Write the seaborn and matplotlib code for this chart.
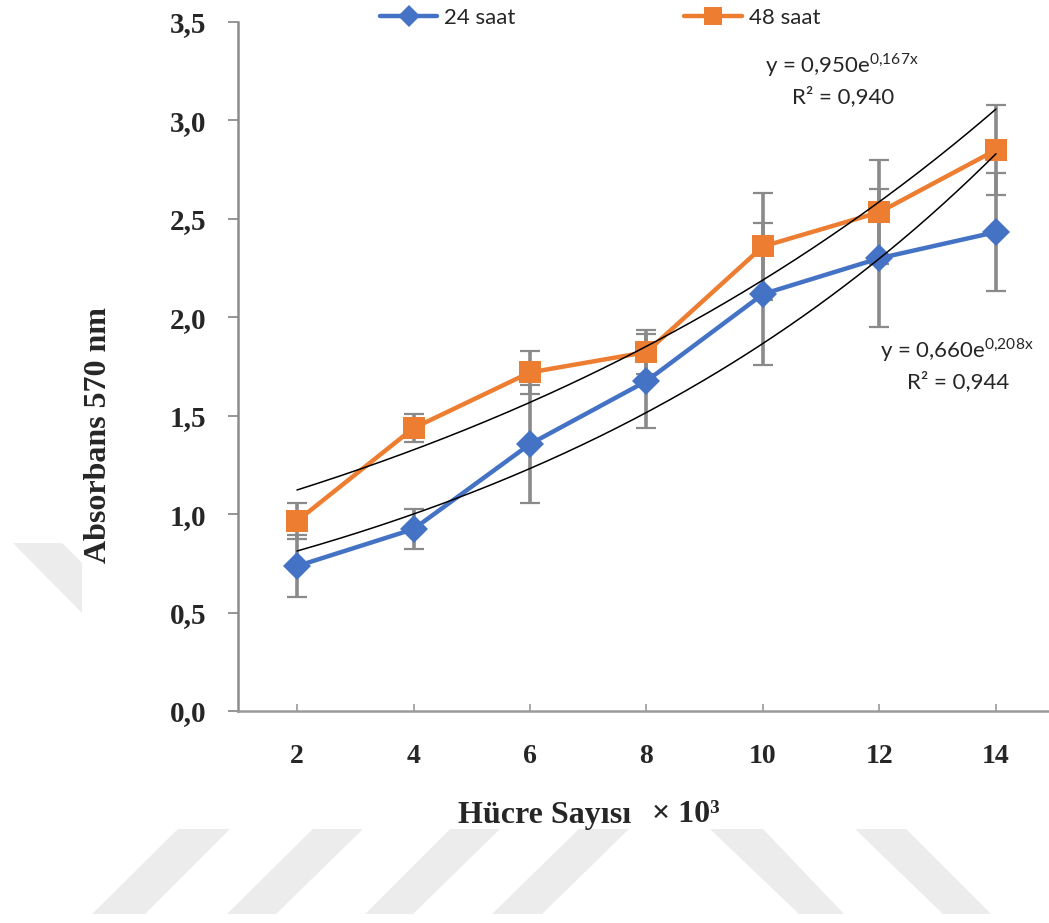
import numpy as np
import pandas as pd
import matplotlib
matplotlib.use("Agg")
import matplotlib.pyplot as plt
from matplotlib.patches import Polygon
import seaborn as sns

# Cell counts (x10^3) and absorbance readings at 570 nm
cells = [2, 4, 6, 8, 10, 12, 14]
abs_24h = [0.736, 0.924, 1.356, 1.676, 2.118, 2.30, 2.433]
err_24h = [0.157, 0.10, 0.30, 0.24, 0.36, 0.35, 0.30]
abs_48h = [0.965, 1.437, 1.72, 1.823, 2.36, 2.534, 2.85]
err_48h = [0.09, 0.07, 0.11, 0.11, 0.27, 0.265, 0.23]
series_names = ["24 saat", "48 saat"]

# Exponential trendlines y = a*exp(b*k), k = point index (1..7)
fit_24h = (0.660, 0.208, 0.944)
fit_48h = (0.950, 0.167, 0.940)

y_ticks = [0.0, 0.5, 1.0, 1.5, 2.0, 2.5, 3.0, 3.5]

BLUE = "#4472C4"
ORANGE = "#ED7D31"

sns.set_style("white")
plt.rcParams["font.family"] = ["Liberation Serif", "DejaVu Serif"]

W, H = 1049, 923
fig = plt.figure(figsize=(W / 100, H / 100), dpi=100)

# light diagonal stripes in the page background
def px(pts):
    return [(x / W, 1 - y / H) for x, y in pts]

stripes = [
    [(178, 829), (230, 829), (145, 914), (92, 914)],
    [(313, 829), (363, 829), (276, 914), (227, 914)],
    [(450, 829), (500, 829), (413, 914), (365, 914)],
    [(579, 829), (629, 829), (542, 914), (492, 914)],
    [(710, 829), (763, 829), (844, 914), (799, 914)],
    [(855, 829), (906, 829), (991, 914), (943, 914)],
    [(13, 543), (62, 543), (82, 563), (82, 613)],
]
for s in stripes:
    fig.patches.append(Polygon(px(s), closed=True, transform=fig.transFigure,
                               facecolor="#ececec", edgecolor="none", zorder=0))

ax = fig.add_axes([238 / W, 1 - 711 / H, (W - 238) / W, (711 - 22) / H])
ax.patch.set_alpha(0)

df = pd.DataFrame({
    "cells": cells * 2,
    "abs": abs_24h + abs_48h,
    "err": err_24h + err_48h,
    "group": [series_names[0]] * len(cells) + [series_names[1]] * len(cells),
})

# error bars: grey stems with black caps
for vals, errs in [(abs_24h, err_24h), (abs_48h, err_48h)]:
    eb = ax.errorbar(cells, vals, yerr=errs, fmt="none", ecolor="#8a8a8a",
                     elinewidth=2.6, capsize=7.5, capthick=1.6, zorder=2)
    for cap in eb[1]:
        cap.set_color("black")

# trendlines
xs = np.linspace(cells[0], cells[-1], 200)
for a, b, _ in (fit_24h, fit_48h):
    ax.plot(xs, a * np.exp(b * xs / 2), color="black", lw=1.1, zorder=4)

sns.lineplot(data=df, x="cells", y="abs", hue="group", style="group",
             palette=[BLUE, ORANGE], markers=["D", "s"], dashes=False,
             markersize=14, linewidth=3.2, markeredgewidth=0,
             legend=False, ax=ax, zorder=3)
# make the square a touch larger than the diamond
ax.lines[-1].set_markersize(16)

ax.set_xlim(0.987, 14.91)
ax.set_ylim(0, 3.5)
ax.set_xticks(cells)
ax.set_xticklabels([str(c) for c in cells])
ax.set_yticks(y_ticks)
ax.set_yticklabels([f"{v:.1f}".replace(".", ",") for v in y_ticks])

for side in ("top", "right"):
    ax.spines[side].set_visible(False)
ax.spines["left"].set_color("#8c8c8c")
ax.spines["left"].set_linewidth(1.8)
ax.spines["bottom"].set_color("#9a9a9a")
ax.spines["bottom"].set_linewidth(1.8)

ax.tick_params(axis="y", direction="out", length=7, width=1.3, color="#8c8c8c",
               labelsize=21, pad=16, left=True)
ax.tick_params(axis="x", direction="in", length=5, width=1.2, color="#9a9a9a",
               labelsize=20, pad=24, bottom=True)
for lab in ax.get_xticklabels() + ax.get_yticklabels():
    lab.set_fontweight("bold")

ax.set_xlabel("")
ax.set_ylabel("")
t = fig.text(458 / W, 1 - 815 / H, "Hücre Sayısı", fontsize=23,
             fontweight="bold", ha="left", va="center")
fig.text(652 / W, 1 - 815 / H, "× 10³", fontsize=23,
         fontweight="bold", ha="left", va="center")
fig.text(98 / W, 1 - 435 / H, "Absorbans 570 nm", fontsize=23,
         fontweight="bold", ha="center", va="center", rotation=90)

# trendline equations
sans = ["Lato", "DejaVu Sans"]
eq_kw = dict(transform=fig.transFigure, ha="center", va="center",
             fontsize=16, family=sans)
ax.text(842 / W, 1 - 65 / H, r"y = 0,950e$^{\mathregular{0{,}167x}}$", **eq_kw)
ax.text(843 / W, 1 - 97 / H, "R² = 0,940", **eq_kw)
ax.text(957 / W, 1 - 350 / H, r"y = 0,660e$^{\mathregular{0{,}208x}}$", **eq_kw)
ax.text(958 / W, 1 - 382 / H, "R² = 0,944", **eq_kw)

handles = [
    plt.Line2D([], [], color=BLUE, lw=3.2, marker="D", markersize=11, markeredgewidth=0),
    plt.Line2D([], [], color=ORANGE, lw=3.2, marker="s", markersize=13, markeredgewidth=0),
]
fig.legend(handles, series_names, loc="center", bbox_to_anchor=(0.572, 0.981),
           ncol=2, frameon=False, prop={"family": sans, "size": 16},
           handlelength=2.6, handletextpad=0.3, columnspacing=7.6)

fig.savefig("out.png", dpi=100)
